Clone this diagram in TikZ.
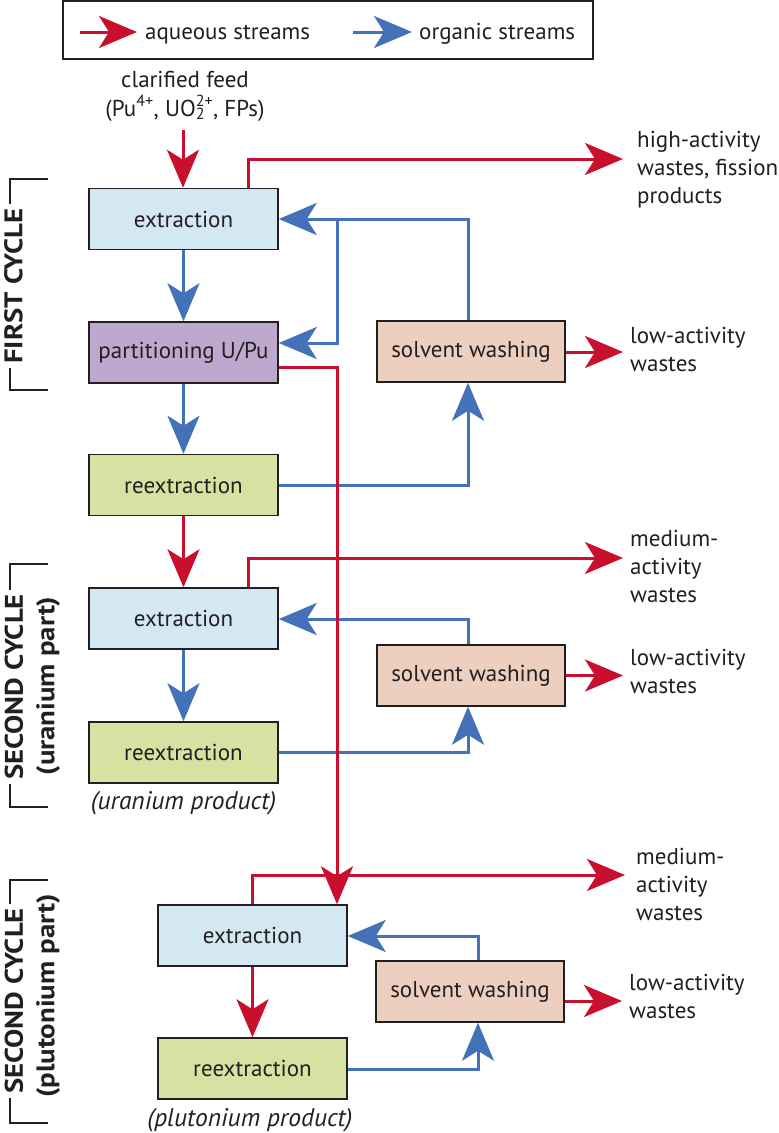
\documentclass[tikz,border=0pt]{standalone}
\usepackage{fontspec}
\setmainfont{PT Sans}
\newfontfamily\cycfont{PT Sans}[FakeStretch=1.13]
\usetikzlibrary{arrows.meta}
\definecolor{aq}{RGB}{200,16,46}
\definecolor{org}{RGB}{68,114,185}
\definecolor{extc}{RGB}{212,232,243}
\definecolor{partc}{RGB}{191,168,206}
\definecolor{reextc}{RGB}{214,225,162}
\definecolor{swc}{RGB}{237,207,192}
\definecolor{ink}{RGB}{35,31,32}
\begin{document}
\begin{tikzpicture}[x=1pt,y=-1pt,
  box/.style={draw=ink, line width=1.5pt, minimum width=189pt, minimum height=61pt, inner sep=0pt, font=\fontsize{23}{28}\selectfont, text=ink},
  extbox/.style={box, fill=extc},
  partbox/.style={box, fill=partc},
  reextbox/.style={box, fill=reextc},
  swbox/.style={box, fill=swc},
  aqline/.style={draw=aq, line width=3pt},
  orgline/.style={draw=org, line width=3pt},
  flow/.style={-{Stealth[length=38pt,width=32pt,inset=10pt]}},
  lbl/.style={font=\fontsize{23}{28}\selectfont, text=ink, align=left, inner sep=0pt, anchor=base west},
  brk/.style={draw=ink, line width=1.5pt},
  cyc/.style={font=\cycfont\bfseries\fontsize{25.5}{28}\selectfont, rotate=90, inner sep=0pt, text=ink},
  prod/.style={font=\itshape\fontsize{25.5}{28}\selectfont, text=ink, inner sep=0pt},
]
\useasboundingbox (0,0) rectangle (779,1133);

% legend
\node[draw=ink, line width=1.5pt, minimum width=530pt, minimum height=58pt, inner sep=0pt] (legend) at (328,30) {};
\coordinate (la1) at (80,32);
\coordinate (la2) at (137,32);
\coordinate (lo1) at (353,32);
\coordinate (lo2) at (412,32);
\draw[aqline, flow] (la1) -- (la2);
\draw[orgline, flow] (lo1) -- (lo2);
\node[lbl] (laq) at (145,39) {aqueous streams};
\node[lbl] (lorg) at (419,39) {organic streams};

% feed (base anchor = baseline of last line)
\node[font=\fontsize{23}{29}\selectfont, text=ink, align=center, inner sep=0pt, anchor=base] (feed) at (185,116)
  {clarified feed\\(Pu\textsuperscript{4+}, UO\makebox[0pt][l]{\textsubscript{2}}\textsuperscript{2+}, FPs)};
\coordinate (feedstart) at (183,130);

% boxes
\node[extbox] (ext1) at (183.5,219) {extraction};
\node[partbox] (part) at (183.5,352.5) {partitioning U/Pu};
\node[reextbox] (reext1) at (183.5,485) {reextraction};
\node[swbox, minimum width=188pt] (sw1) at (471,351.5) {solvent washing};

\node[extbox] (ext2) at (183.5,618.5) {extraction};
\node[reextbox] (reext2) at (183.5,752.5) {reextraction};
\node[swbox, minimum width=188pt] (sw2) at (471,675.5) {solvent washing};

\node[extbox] (ext3) at (252.5,935.5) {extraction};
\node[reextbox] (reext3) at (252.5,1068.5) {reextraction};
\node[swbox, minimum width=188pt] (sw3) at (470,991.5) {solvent washing};

% output coordinates
\coordinate (hw) at (623,159);
\coordinate (lw1) at (623,352);
\coordinate (mw2) at (623,558);
\coordinate (lw2) at (623,675.5);
\coordinate (mw3) at (625,875);
\coordinate (lw3) at (622,1001);

% organic streams
\draw[orgline, flow] (ext1.south) -- (part.north);
\draw[orgline, flow] (part.south) -- (reext1.north);
\draw[orgline, flow] (468,0 |- sw1.north) -- (468,219) -- (ext1.east |- 0,219);
\draw[orgline, flow] (337,219) -- (337,343) -- (part.east |- 0,343);
\draw[orgline, flow] (reext1.east |- 0,485) -- (468,485) -- (468,0 |- sw1.south);

\draw[orgline, flow] (ext2.south) -- (reext2.north);
\draw[orgline, flow] (468,0 |- sw2.north) -- (468,619) -- (ext2.east |- 0,619);
\draw[orgline, flow] (reext2.east |- 0,752) -- (468,752) -- (468,0 |- sw2.south);

\draw[orgline, flow] (478,0 |- sw3.north) -- (478,936) -- (ext3.east |- 0,936);
\draw[orgline, flow] (reext3.east |- 0,1069) -- (478,1069) -- (478,0 |- sw3.south);

% aqueous streams
\draw[aqline, flow] (feedstart) -- (ext1.north -| feedstart);
\draw[aqline, flow] (248,0 |- ext1.north) -- (248,159) -- (hw);
\draw[aqline, flow] (sw1.east |- lw1) -- (lw1);
\draw[aqline, flow] (reext1.south) -- (ext2.north);
\draw[aqline, flow] (248,0 |- ext2.north) -- (248,558) -- (mw2);
\draw[aqline, flow] (sw2.east |- lw2) -- (lw2);
\draw[aqline, flow] (part.east |- 0,367) -- (337,367) -- (337,0 |- ext3.north);
\draw[aqline, flow] (252,0 |- ext3.north) -- (252,875) -- (mw3);
\draw[aqline, flow] (ext3.south) -- (reext3.north);
\draw[aqline, flow] (sw3.east |- lw3) -- (lw3);

% output labels (anchored at baseline of last line)
\node[lbl] (thw) at (637,203) {high-activity\\wastes, fission\\products};
\node[lbl] (tlw1) at (630,371) {low-activity\\wastes};
\node[lbl] (tmw2) at (630,602) {medium-\\activity\\wastes};
\node[lbl] (tlw2) at (630,693) {low-activity\\wastes};
\node[lbl] (tmw3) at (636,920) {medium-\\activity\\wastes};
\node[lbl] (tlw3) at (629,1018) {low-activity\\wastes};

\node[prod] (uprod) at (183.5,803) {(uranium product)};
\node[prod] (pprod) at (250,1120) {(plutonium product)};

% brackets
\draw[brk] (48,179) -- (10,179) -- (10,390) -- (48,390);
\node[cyc, fill=white, inner sep=4pt] (c1) at (13.5,286) {FIRST CYCLE};

\draw[brk] (48,564) -- (10,564) -- (10,807) -- (48,807);
\node[cyc, fill=white, inner sep=4pt] (c2) at (14,687) {SECOND CYCLE};
\node[cyc] (c2b) at (48,686) {(uranium part)};

\draw[brk] (48,880) -- (10,880) -- (10,1123) -- (48,1123);
\node[cyc, fill=white, inner sep=4pt] (c3) at (14,1001) {SECOND CYCLE};
\node[cyc] (c3b) at (48,996) {(plutonium part)};
\end{tikzpicture}
\end{document}
